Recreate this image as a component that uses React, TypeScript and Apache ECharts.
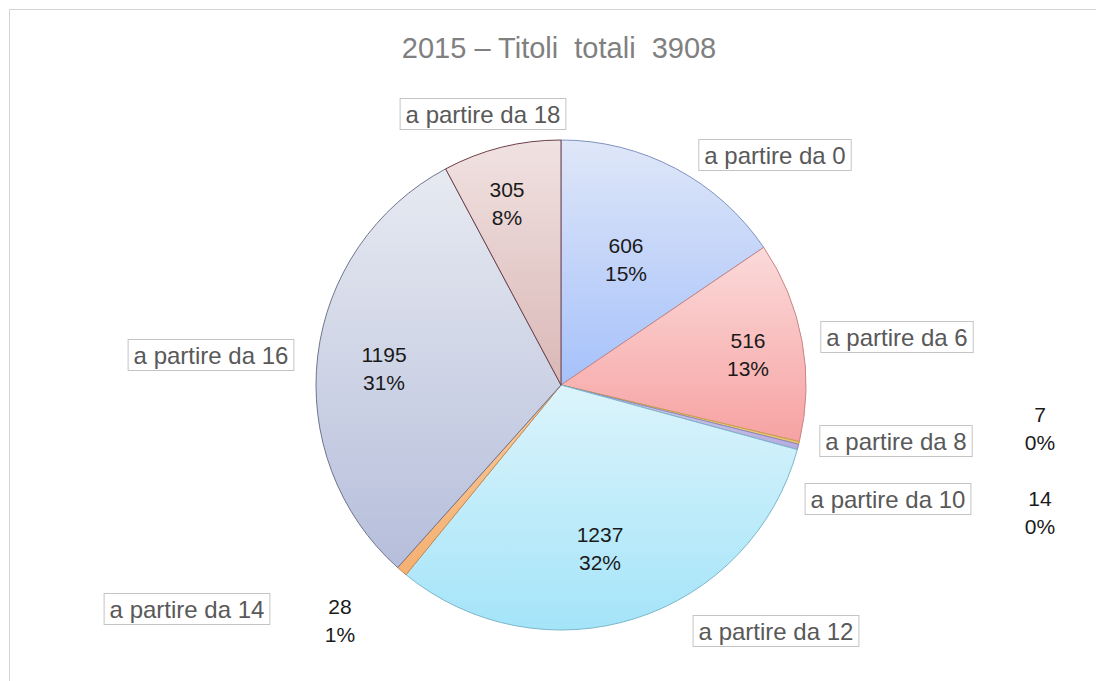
import React, { useEffect, useRef } from "react";
import * as echarts from "echarts";

const TITLE = "2015 – Titoli  totali  3908";
const categories = [
  "a partire da 0",
  "a partire da 6",
  "a partire da 8",
  "a partire da 10",
  "a partire da 12",
  "a partire da 14",
  "a partire da 16",
  "a partire da 18",
];
const values = [606, 516, 7, 14, 1237, 28, 1195, 305];

// styling (top colour, bottom colour, border)
const sliceTop = ["#dfe7f8", "#fbdada", "#f3e3b0", "#d9d4f0", "#dcf4fb", "#f9c99a", "#e7eaf1", "#f0e2e1"];
const sliceBottom = ["#a6c1fa", "#f7a2a2", "#e8c070", "#b3aae0", "#a4e4f9", "#f5b072", "#b6bedb", "#dab8b7"];
const sliceBorder = ["#7d93bf", "#c98585", "#c9a04a", "#8d86b8", "#7bb7c9", "#c98a4f", "#6f758c", "#6e3f4a"];

// label layout (centre points in px)
const nameLabelPos: [number, number][] = [
  [775, 155], [897, 337], [896, 441], [888, 499], [776, 631], [187, 609], [211, 355], [483, 114],
];
const valueLabelPos: [number, number][] = [
  [626, 259], [748, 354], [1040, 428], [1040, 512], [600, 548], [340, 620], [384, 368], [507, 203],
];

export default function App() {
  const ref = useRef<HTMLDivElement>(null);
  useEffect(() => {
    if (!ref.current) return;
    const chart = echarts.init(ref.current, null, { renderer: "svg" });
    const FONT = "Liberation Sans, Arial, sans-serif";
    const data = values.map((v, i) => ({
      name: categories[i],
      value: v,
      itemStyle: {
        color: new echarts.graphic.LinearGradient(0, 0, 0, 1, [
          { offset: 0, color: sliceTop[i] },
          { offset: 1, color: sliceBottom[i] },
        ]),
        borderColor: sliceBorder[i],
        borderWidth: 1,
      },
    }));
    chart.setOption({
      animation: false,
      backgroundColor: "#ffffff",
      graphic: [
        {
          type: "rect",
          shape: { x: 9.5, y: 9.5, width: 1200, height: 800 },
          style: { fill: "none", stroke: "#d4d4d4", lineWidth: 1 },
          silent: true,
        },
        {
          type: "text",
          x: 559,
          y: 48,
          style: {
            text: TITLE,
            align: "center",
            verticalAlign: "middle",
            fontFamily: FONT,
            fontSize: 29,
            fill: "#808080",
          },
        },
      ],
      series: [
        {
          type: "pie",
          center: [561, 385],
          radius: 245,
          startAngle: 90,
          clockwise: true,
          percentPrecision: 0,
          avoidLabelOverlap: false,
          data,
          label: {
            show: true,
            position: "outside",
            formatter: "{b}",
            fontFamily: FONT,
            fontSize: 24,
            lineHeight: 25,
            color: "#595959",
            borderColor: "#c4c4c4",
            borderWidth: 1,
            backgroundColor: "#ffffff",
            padding: [3, 5, 2, 5],
          },
          labelLine: { show: false },
          labelLayout: (p: any) => {
            const pos = nameLabelPos[p.dataIndex];
            return { x: pos[0], y: pos[1], align: "center", verticalAlign: "middle" };
          },
          emphasis: { disabled: true },
        },
        {
          type: "pie",
          center: [561, 385],
          radius: 245,
          startAngle: 90,
          clockwise: true,
          percentPrecision: 0,
          silent: true,
          avoidLabelOverlap: false,
          data: values.map((v, i) => ({ name: categories[i], value: v })),
          itemStyle: { color: "rgba(0,0,0,0)", borderWidth: 0 },
          label: {
            show: true,
            position: "inside",
            formatter: "{c}\n{d}%",
            fontFamily: FONT,
            fontSize: 21,
            lineHeight: 28,
            color: "#1a1a1a",
            align: "center",
          },
          labelLine: { show: false },
          labelLayout: (p: any) => {
            const pos = valueLabelPos[p.dataIndex];
            return { x: pos[0], y: pos[1], align: "center", verticalAlign: "middle" };
          },
          emphasis: { disabled: true },
        },
      ],
    });
    return () => chart.dispose();
  }, []);
  return (
    <div
      ref={ref}
      style={{ position: "fixed", left: 0, top: 0, width: 1096, height: 681 }}
    />
  );
}
